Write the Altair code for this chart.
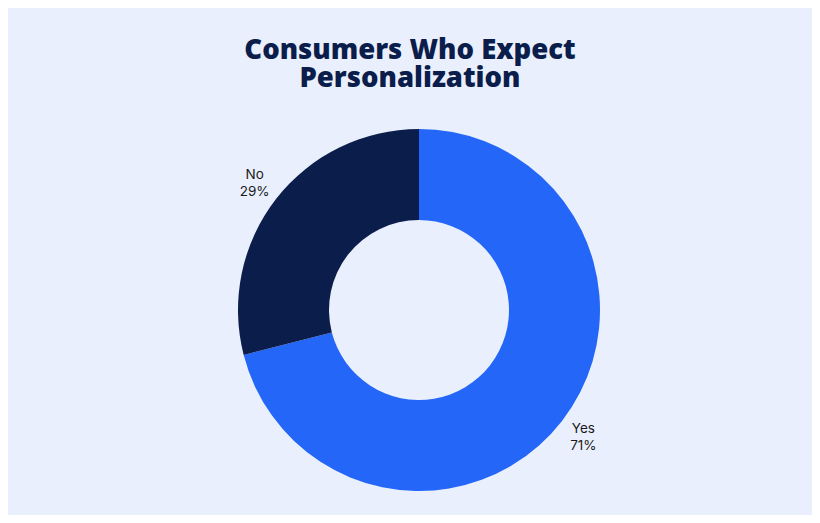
import altair as alt
import pandas as pd

categories = ["Yes", "No"]
values = [71, 29]
colors = ["#2366F8", "#0B1D4B"]
title_lines = ["Consumers Who Expect", "Personalization"]

df = pd.DataFrame({
    "category": categories,
    "value": values,
    "order": list(range(len(categories))),
})
df["label"] = [f"{c}\n{v}%" for c, v in zip(categories, values)]

CX, CY = 411, 302

base = alt.Chart(df).encode(
    theta=alt.Theta("value:Q", stack=True),
    order=alt.Order("order:Q"),
)

arcs = base.mark_arc(innerRadius=90, outerRadius=181).encode(
    x=alt.value(CX), y=alt.value(CY),
    color=alt.Color("category:N", scale=alt.Scale(domain=categories, range=colors), legend=None),
)

labels = base.mark_text(radius=208, dy=-8, fontSize=13.5, font="Inter", color="#1a1a1a",
                        lineBreak="\n", align="center", baseline="middle", lineHeight=17).encode(
    x=alt.value(CX), y=alt.value(CY),
    text="label:N",
)

tdf = pd.DataFrame({"t": ["\n".join(title_lines)]})
title = alt.Chart(tdf).mark_text(fontSize=27.5, font="Open Sans", fontWeight=800, color="#0B1D4B",
                                 align="center", baseline="middle", lineBreak="\n",
                                 lineHeight=28).encode(
    x=alt.value(402),
    y=alt.value(43),
    text="t:N",
)

chart = alt.layer(arcs, labels, title).properties(
    width=804, height=507,
    autosize=alt.AutoSizeParams(type="none"),
    padding=0,
).configure(background="#EAEFFD").configure_view(stroke=None)

chart.save("out.html", embed_options={"renderer": "svg", "actions": False})
